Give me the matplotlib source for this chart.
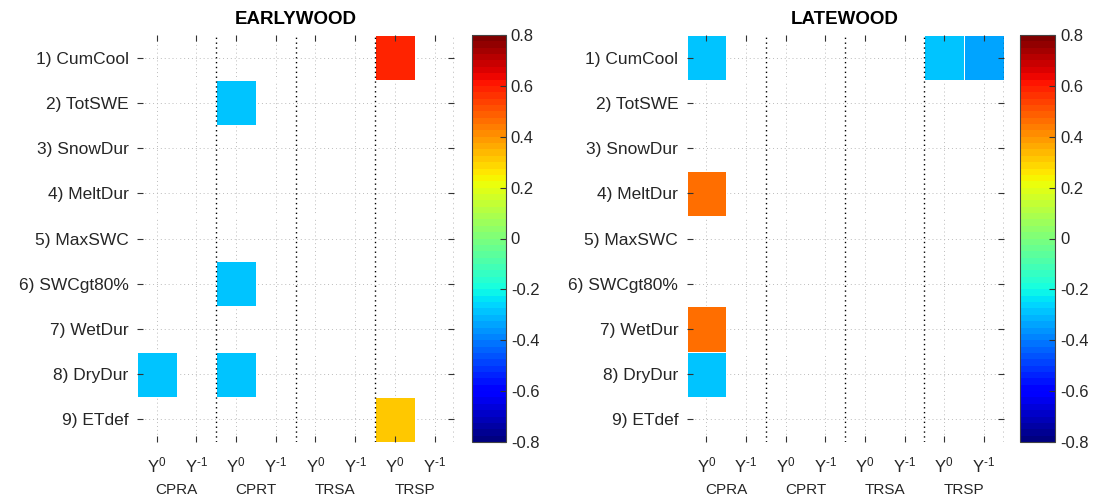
''' Earlywood / latewood correlation grids with jet colour scale '''

import numpy as np
import matplotlib
matplotlib.use('Agg')
import matplotlib.pyplot as plt
import matplotlib.transforms as mtrans

plt.rcParams['font.family'] = ['Liberation Sans', 'DejaVu Sans']
plt.rcParams['mathtext.fontset'] = 'custom'
plt.rcParams['mathtext.rm'] = 'Liberation Sans'
plt.rcParams['mathtext.it'] = 'Liberation Sans'
plt.rcParams['axes.unicode_minus'] = False

# data
row_labels = ['1) CumCool', '2) TotSWE', '3) SnowDur', '4) MeltDur', '5) MaxSWC',
              '6) SWCgt80%', '7) WetDur', '8) DryDur', '9) ETdef']
sites = ['CPRA', 'CPRT', 'TRSA', 'TRSP']
lags = [r'Y$^{0}$', r'Y$^{\text{-}1}$']
# columns: CPRA Y0, CPRA Y-1, CPRT Y0, CPRT Y-1, TRSA Y0, TRSA Y-1, TRSP Y0, TRSP Y-1
nan = np.nan
earlywood = [
    [nan, nan, nan, nan, nan, nan, 0.58, nan],
    [nan, nan, -0.30, nan, nan, nan, nan, nan],
    [nan, nan, nan, nan, nan, nan, nan, nan],
    [nan, nan, nan, nan, nan, nan, nan, nan],
    [nan, nan, nan, nan, nan, nan, nan, nan],
    [nan, nan, -0.30, nan, nan, nan, nan, nan],
    [nan, nan, nan, nan, nan, nan, nan, nan],
    [-0.30, nan, -0.30, nan, nan, nan, nan, nan],
    [nan, nan, nan, nan, nan, nan, 0.32, nan],
]
latewood = [
    [-0.28, nan, nan, nan, nan, nan, -0.28, -0.34],
    [nan, nan, nan, nan, nan, nan, nan, nan],
    [nan, nan, nan, nan, nan, nan, nan, nan],
    [0.45, nan, nan, nan, nan, nan, nan, nan],
    [nan, nan, nan, nan, nan, nan, nan, nan],
    [nan, nan, nan, nan, nan, nan, nan, nan],
    [0.45, nan, nan, nan, nan, nan, nan, nan],
    [-0.28, nan, nan, nan, nan, nan, nan, nan],
    [nan, nan, nan, nan, nan, nan, nan, nan],
]
vmin, vmax = -0.8, 0.8
cbar_ticks = [-0.8, -0.6, -0.4, -0.2, 0, 0.2, 0.4, 0.6, 0.8]

cmap = plt.get_cmap('jet', 64)
textc = '#262626'

fig = plt.figure(figsize=(10.95, 5), dpi=100)


def panel(ax_rect, cb_rect, data, title):
    ax = fig.add_axes(ax_rect)
    vals = np.ma.masked_invalid(np.array(data))
    nrow, ncol = vals.shape
    xc = np.arange(ncol) + 0.5
    yc = np.arange(nrow) + 0.5

    # grid
    for x in xc:
        ax.axvline(x, color='#bbbbbb', ls=(0, (1, 3)), lw=0.7, zorder=0)
    for y in yc:
        ax.axhline(y, color='#bbbbbb', ls=(0, (1, 3)), lw=0.7, zorder=0)

    mesh = ax.pcolormesh(np.arange(ncol + 1), np.arange(nrow + 1), vals,
                         cmap=cmap, vmin=vmin, vmax=vmax,
                         edgecolors='white', linewidth=0.5, zorder=1)

    # site separators
    for x in range(2, ncol + 1, 2):
        ax.axvline(x, color='black', ls=(0, (1, 2.5)), lw=1.0, zorder=3)

    ax.set_xlim(0, ncol)
    ax.set_ylim(nrow, 0)
    ax.set_xticks(xc)
    ax.set_xticklabels(lags * len(sites))
    ax.set_yticks(yc)
    ax.set_yticklabels(row_labels)
    for s in ax.spines.values():
        s.set_visible(False)
    ax.tick_params(axis='both', direction='in', length=4, width=0.8, color='#333333',
                   labelcolor=textc, top=True, right=True)
    ax.tick_params(axis='y', labelsize=12.5, pad=6)
    ax.tick_params(axis='x', labelsize=12, pad=10)

    trans = mtrans.blended_transform_factory(ax.transData, ax.transAxes)
    for i, s in enumerate(sites):
        ax.text(2 * i + 1, -0.1, s, transform=trans, ha='center', va='top',
                fontsize=11, color=textc)

    ax.set_title(title, fontsize=13.5, fontweight='bold', pad=8)

    cax = fig.add_axes(cb_rect)
    cb = fig.colorbar(mesh, cax=cax, ticks=cbar_ticks)
    cb.ax.set_yticklabels([f'{t:g}' for t in cbar_ticks])
    cb.outline.set_edgecolor('#444444')
    cb.outline.set_linewidth(0.8)
    cb.ax.tick_params(direction='in', length=4, width=0.8, color='#333333',
                      labelsize=12, labelcolor=textc)


panel([0.125, 0.116, 0.290, 0.814], [0.431, 0.116, 0.031, 0.814], earlywood, 'EARLYWOOD')
panel([0.627, 0.116, 0.2895, 0.814], [0.9315, 0.116, 0.032, 0.814], latewood, 'LATEWOOD')

fig.savefig('out.png', dpi=100)
